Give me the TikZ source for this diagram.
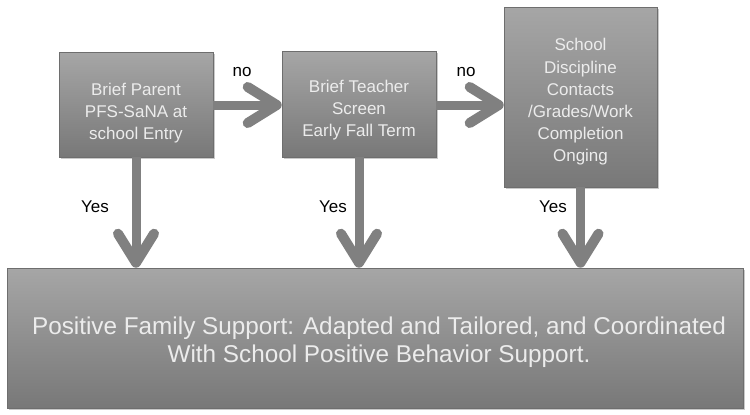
\documentclass[tikz,border=0pt]{standalone}
\usepackage{fontspec}
\setmainfont{Liberation Sans}
\usetikzlibrary{arrows.meta,shadows}
\definecolor{boxtop}{RGB}{166,166,166}
\definecolor{boxbot}{RGB}{120,120,120}
\definecolor{boxedge}{RGB}{110,110,110}
\definecolor{boxtext}{RGB}{236,236,236}
\definecolor{arrowgray}{RGB}{128,128,128}
\tikzset{
  stepbox/.style={rectangle, draw=boxedge, line width=0.6pt,
    top color=boxtop, bottom color=boxbot,
    drop shadow={shadow xshift=1.5pt, shadow yshift=-1.5pt, opacity=0.35, fill=black!60},
    text=boxtext, align=center, inner sep=0pt,
    font=\fontsize{17}{22.2}\selectfont},
  flowarrow/.style={draw=arrowgray, line width=9pt,
    -{Straight Barb[length=29pt, width=36pt, line width=10pt, round]}},
  lbl/.style={text=black, font=\fontsize{17}{20}\selectfont, inner sep=0pt}
}
\begin{document}
\begin{tikzpicture}[x=1pt, y=-1pt]
\useasboundingbox[fill=white] (0,0) rectangle (750,415);
\node[stepbox, minimum width=154pt, minimum height=105pt] (b1) at (136,104.5)
  {\rule{0pt}{29pt}Brief Parent\\PFS-SaNA at\\school Entry};
\node[stepbox, minimum width=154pt, minimum height=106pt] (b2) at (359,104)
  {\rule{0pt}{24.5pt}Brief Teacher\\Screen\\Early Fall Term};
\node[stepbox, minimum width=153pt, minimum height=180pt] (b3) at (580.5,97)
  {\rule{0pt}{22.5pt}School\\Discipline\\Contacts\\/Grades/Work\\Completion\\Onging};
\node[stepbox, minimum width=736pt, minimum height=140pt,
  font=\fontsize{24.3}{28}\selectfont] (bot) at (375,338)
  {\rule{0pt}{25.7pt}\hspace*{8pt}Positive Family Support: Adapted and Tailored, and Coordinated\\\hspace*{8pt}With School Positive Behavior Support.};
\coordinate (a1s) at (b1.east |- 0,105);
\coordinate (a1e) at (b2.west |- 0,105);
\coordinate (a2s) at (b2.east |- 0,105);
\coordinate (a2e) at (b3.west |- 0,105);
\draw[flowarrow] (a1s) -- (a1e);
\draw[flowarrow] (a2s) -- (a2e);
\draw[flowarrow] (b1.south) -- (b1.south |- bot.north);
\draw[flowarrow] (b2.south) -- (b2.south |- bot.north);
\draw[flowarrow] (b3.south) -- (b3.south |- bot.north);
\node[lbl] (no1) at (242,72) {no};
\node[lbl] (no2) at (466,72) {no};
\node[lbl] (y1) at (95,207) {Yes};
\node[lbl] (y2) at (333,207) {Yes};
\node[lbl] (y3) at (553,207) {Yes};
\end{tikzpicture}
\end{document}
